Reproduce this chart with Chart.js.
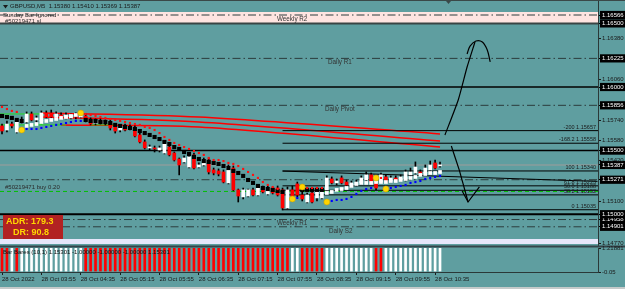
<!DOCTYPE html>
<html>
<head>
<meta charset="utf-8">
<script src="https://cdn.jsdelivr.net/npm/chart.js@4.4.0/dist/chart.umd.min.js"></script>
<style>
  html, body { margin: 0; padding: 0; width: 625px; height: 289px; overflow: hidden; background: #5f9ea0; }
  canvas { position: absolute; left: 0; }
  #main { top: 0; }
  #sub { top: 243px; }
  #foot { position: absolute; left: 0; top: 287px; width: 625px; height: 2px; background: #c4caca; }
  #topline { position: absolute; left: 0; top: 0; width: 625px; height: 1px; background: #3a4848; }
</style>
</head>
<body>
<canvas id="main" width="625" height="246"></canvas>
<canvas id="sub" width="625" height="46"></canvas>
<div id="topline"></div>
<div id="foot"></div>
<script>
/* ========= DATA (GBPUSD M5, 28 Oct 2022) ========= */
const _ = null;

const openP = [1.15694,1.15662,1.15709,1.15646,1.15725,1.15725,1.15788,1.15741,1.15733,1.15796,
  1.15796,1.15764,1.15780,1.15757,1.15757,1.15780,1.15764,1.15772,1.15741,1.15717,
  1.15733,1.15717,1.15725,1.15694,1.15662,1.15686,1.15670,1.15678,1.15623,1.15568,
  1.15521,1.15521,1.15505,1.15481,1.15528,1.15481,1.15434,1.15411,1.15371,1.15466,
  1.15371,1.15387,1.15426,1.15348,1.15340,1.15332,1.15246,1.15363,1.15191,1.15136,
  1.15143,1.15191,1.15151,1.15206,1.15159,1.15206,1.15206,1.15191,1.15049,1.15191,
  1.15238,1.15151,1.15096,1.15167,1.15128,1.15128,1.15191,1.15277,1.15246,1.15285,
  1.15253,1.15222,1.15230,1.15246,1.15269,1.15309,1.15246,1.15253,1.15293,1.15261,
  1.15285,1.15269,1.15269,1.15309,1.15324,1.15332,1.15324,1.15348,1.15403,1.15380];
const highP = [1.15709,1.15733,1.15725,1.15741,1.15764,1.15804,1.15804,1.15772,1.15812,1.15812,
  1.15819,1.15804,1.15796,1.15796,1.15788,1.15796,1.15812,1.15788,1.15757,1.15749,
  1.15749,1.15741,1.15741,1.15709,1.15702,1.15709,1.15702,1.15694,1.15638,1.15584,
  1.15544,1.15536,1.15536,1.15576,1.15544,1.15489,1.15442,1.15458,1.15466,1.15481,
  1.15403,1.15442,1.15442,1.15363,1.15356,1.15348,1.15387,1.15379,1.15198,1.15206,
  1.15198,1.15206,1.15230,1.15222,1.15222,1.15214,1.15222,1.15206,1.15214,1.15222,
  1.15253,1.15191,1.15167,1.15183,1.15198,1.15206,1.15301,1.15293,1.15277,1.15301,
  1.15269,1.15261,1.15269,1.15301,1.15332,1.15324,1.15261,1.15324,1.15309,1.15301,
  1.15301,1.15309,1.15348,1.15363,1.15411,1.15348,1.15387,1.15418,1.15426,1.15410];
const lowP = [1.15631,1.15646,1.15678,1.15638,1.15717,1.15717,1.15733,1.15725,1.15725,1.15757,
  1.15757,1.15757,1.15749,1.15749,1.15749,1.15749,1.15757,1.15725,1.15702,1.15702,
  1.15709,1.15702,1.15662,1.15638,1.15646,1.15654,1.15662,1.15607,1.15560,1.15513,
  1.15505,1.15489,1.15489,1.15474,1.15458,1.15418,1.15309,1.15403,1.15363,1.15356,
  1.15363,1.15379,1.15316,1.15309,1.15301,1.15246,1.15238,1.15183,1.15096,1.15120,
  1.15136,1.15143,1.15143,1.15167,1.15151,1.15159,1.15143,1.15033,1.15041,1.15128,
  1.15136,1.15104,1.15088,1.15088,1.15104,1.15120,1.15183,1.15238,1.15230,1.15238,
  1.15222,1.15214,1.15222,1.15238,1.15261,1.15246,1.15191,1.15246,1.15246,1.15253,
  1.15261,1.15261,1.15261,1.15293,1.15316,1.15309,1.15316,1.15332,1.15356,1.15369];
const closeP = [1.15654,1.15709,1.15694,1.15725,1.15741,1.15788,1.15741,1.15757,1.15796,1.15764,
  1.15764,1.15788,1.15757,1.15780,1.15780,1.15764,1.15788,1.15733,1.15709,1.15733,
  1.15717,1.15725,1.15678,1.15654,1.15686,1.15662,1.15686,1.15615,1.15568,1.15521,
  1.15528,1.15513,1.15521,1.15560,1.15466,1.15426,1.15387,1.15442,1.15450,1.15363,
  1.15387,1.15426,1.15332,1.15324,1.15316,1.15253,1.15371,1.15191,1.15143,1.15191,
  1.15191,1.15151,1.15214,1.15175,1.15206,1.15167,1.15151,1.15049,1.15191,1.15143,
  1.15151,1.15120,1.15151,1.15096,1.15183,1.15191,1.15285,1.15246,1.15261,1.15246,
  1.15230,1.15246,1.15253,1.15285,1.15309,1.15253,1.15206,1.15309,1.15253,1.15285,
  1.15269,1.15293,1.15332,1.15332,1.15371,1.15316,1.15363,1.15387,1.15363,1.15387];

// trailing indicators, one value per bar
const redDots = [1.15843,1.15827,1.15812,1.15804,_,_,_,_,_,_,_,_,_,_,_,_,
  1.15796,1.15788,1.15780,1.15772,1.15764,1.15757,1.15749,1.15741,1.15733,1.15725,
  1.15717,1.15709,1.15702,1.15686,1.15678,1.15662,1.15638,1.15607,1.15584,1.15560,
  1.15544,1.15528,1.15513,1.15497,1.15481,1.15466,1.15442,1.15426,1.15426,1.15418,
  1.15403,1.15395,1.15379,1.15356,1.15332,1.15309,1.15285,1.15253,1.15230,1.15214,1.15198,
  _,_,_,_,_,1.15206,1.15206,1.15206,1.15206,_,_,_,_,_,_,_,_,_,_,1.15285,1.15285,
  _,_,_,_,_,_,_,_,_,_,_,_];
const blackBlocks = [1.15772,1.15764,1.15757,1.15741,1.15733,_,_,_,_,_,_,_,_,_,_,_,_,
  1.15741,1.15733,1.15733,1.15725,1.15725,1.15717,1.15702,1.15694,1.15686,1.15678,
  1.15670,1.15654,1.15638,1.15623,1.15607,1.15591,1.15568,1.15552,1.15528,1.15513,
  1.15489,1.15474,1.15450,1.15434,1.15418,1.15411,1.15403,1.15395,1.15379,1.15363,
  1.15340,1.15324,1.15301,1.15269,1.15246,1.15222,1.15206,1.15198,1.15191,1.15183,1.15175,
  _,_,_,1.15191,1.15191,1.15191,1.15191,1.15191,
  _,_,_,_,_,_,_,_,_,_,_,_,_,_,_,_,_,_,_,_,_,_,_,_];
const whiteBlocks = [_,_,_,_,_,1.15694,1.15702,1.15709,1.15725,1.15733,1.15741,1.15749,1.15757,
  1.15764,1.15772,1.15780,
  _,_,_,_,_,_,_,_,_,_,_,_,_,_,_,_,_,_,_,_,_,_,_,_,_,_,_,_,_,_,_,_,_,_,_,_,_,_,_,_,_,_,_,_,_,_,_,_,_,_,
  1.15167,1.15175,1.15191,1.15198,1.15206,1.15222,1.15238,1.15246,1.15246,1.15246,1.15253,1.15253,
  1.15253,1.15261,1.15261,1.15269,1.15277,1.15285,1.15293,1.15309,1.15316,1.15324,1.15324,1.15332];
const blueDots = [_,_,_,_,_,1.15670,1.15670,1.15670,1.15678,1.15686,1.15694,1.15702,1.15709,
  1.15717,1.15725,1.15733,1.15733,
  _,_,_,_,_,_,_,_,_,_,_,_,_,_,_,_,_,_,_,_,_,_,_,_,_,_,_,_,_,_,_,_,_,_,_,_,_,_,_,_,_,_,_,
  1.15128,_,_,_,_,_,_,
  1.15104,1.15112,1.15112,1.15120,1.15136,1.15159,1.15183,1.15198,1.15206,
  _,_,_,
  1.15206,1.15214,1.15222,1.15230,1.15246,1.15253,1.15261,1.15277,1.15285,1.15293,1.15301];
const signalBars   = [4, 16, 59, 61, 66, 76, 78];
const signalPrices = [1.15662, 1.15796, 1.15120, 1.15214, 1.15096, 1.15285, 1.15198];

// higher timeframe averages (red), knots in bar / price
const maBars   = [[8, 40, 89], [8, 40, 89], [12, 40, 89]];
const maPrices = [[1.15796, 1.15764, 1.15631], [1.15764, 1.15725, 1.15576], [1.15702, 1.15686, 1.15528]];

// levels
const pivotPrices = [1.16566, 1.16225, 1.15856, 1.15271, 1.14958, 1.14901];
const pivotNames  = ["Weekly R2", "Daily R1", "Daily Pivot", "", "Weekly R1", "Daily S2"];
const roundLevels = [1.16000, 1.15500, 1.15000];
const sundayBand  = [1.16590, 1.16500];
const lowBand     = [1.14806, 1.14766];
const bidPrice    = 1.15387;
const orderPrice  = 1.15179;
const fibStart    = 57;
const fibPrices   = [1.15657, 1.15558, 1.15340, 1.15223, 1.15188, 1.15152, 1.15035];
const fibNames    = ["-200 1.15657", "-168.2 1.15558", "100 1.15340", "61.8 1.15223", "50.0 1.15188", "38.2 1.15152", "0 1.15035"];
const trendBars   = [57, 121];
const trendPrices = [1.15339, 1.15258];
const boxBars     = [[-0.4, 8], [-0.4, 13], [8, 8], [18, 23]];
const boxPrices   = [[1.15788, 1.15788], [1.15702, 1.15702], [1.15788, 1.15702], [1.15702, 1.15702]];

// hand drawn arrows
const upShaftBars = [90.0, 92.7, 94.5, 96.1];
const upShaftP    = [1.15623, 1.15898, 1.16157, 1.16354];
const upHeadBars  = [94.5, 95.1, 96.3, 97.6, 98.6, 99.2];
const upHeadP     = [1.16260, 1.16322, 1.16362, 1.16354, 1.16291, 1.16197];
const dnShaftBars = [91.3, 92.9, 94.7];
const dnShaftP    = [1.15536, 1.15348, 1.15096];
const dnHeadBars  = [93.5, 94.7, 97.0];
const dnHeadP     = [1.15183, 1.15096, 1.15214];

// sub window: bar trend (+1 white, -1 red)
const histTrend = [-1,-1,1,-1,1, 1,1,1,1,1,1,1,1,1,1,1,1,
  -1,-1,-1,-1,-1,-1,-1,-1,-1,-1,-1,-1,-1,-1,-1,-1,-1,-1,-1,-1,-1,
  -1,-1,-1,-1,-1,-1,-1,-1,-1,-1,-1,-1,-1,-1,-1,-1,-1,-1,-1,-1,-1,
  1,1, -1,-1,-1,-1,-1, 1,1,1,1,1,1,1,1,1,1, -1,-1, 1,1,1,1,1,1,1,1,1,1,1,1];
const histHeight = 1.2;

// axis ticks
const plainTicks = [1.16380, 1.16060, 1.15740, 1.15580, 1.15420, 1.15100, 1.14770];
const boxTicks   = [1.16566, 1.16500, 1.16225, 1.16000, 1.15856, 1.15500, 1.15387, 1.15271, 1.15000, 1.14958, 1.14901];
const subTicks   = [1.21881, -0.05];
const tickBars   = [0, 8, 16, 24, 32, 40, 48, 56, 64, 72, 80, 88];
const timeLabels = ["28 Oct 2022", "28 Oct 03:55", "28 Oct 04:35", "28 Oct 05:15", "28 Oct 05:55", "28 Oct 06:35",
  "28 Oct 07:15", "28 Oct 07:55", "28 Oct 08:35", "28 Oct 09:15", "28 Oct 09:55", "28 Oct 10:35"];

const title = "GBPUSD,M5  1.15380 1.15410 1.15369 1.15387";

/* ========= SETUP ========= */
const FONT = "'Liberation Sans', Arial, sans-serif";
Chart.defaults.font.family = FONT;
Chart.defaults.font.size = 6;
Chart.defaults.color = '#1a1a1a';

const xMin = -0.41, xMax = 121.1;
const yMin = 1.14750, yMax = 1.16684;
const bars = closeP.map((v, i) => i);

const pts = (arr) => arr.map((v, i) => v === null ? null : {x: i, y: v}).filter(p => p);
const path = (xs, ys) => xs.map((x, i) => ({x, y: ys[i]}));
const isBoxed = (c) => c.tick && boxTicks.includes(c.tick.value);

function hline(p, color, width, dash, order, x0) {
  return {
    type: 'line', data: [{x: x0 === undefined ? xMin : x0, y: p}, {x: xMax, y: p}],
    borderColor: color, borderWidth: width, borderDash: dash || [], pointRadius: 0, fill: false, order
  };
}
function band(b, color) {
  return {
    type: 'line', data: [{x: xMin, y: b[0]}, {x: xMax, y: b[0]}],
    borderWidth: 0, pointRadius: 0, fill: {value: b[1]}, backgroundColor: color, order: 100
  };
}
function poly(xs, ys, color, width, order, tension) {
  return {
    type: 'line', data: path(xs, ys), borderColor: color, borderWidth: width,
    pointRadius: 0, fill: false, tension: tension || 0, order
  };
}
function marks(data, style, r, color, order) {
  return {
    type: 'line', data, showLine: false, pointStyle: style, pointRadius: r,
    pointBackgroundColor: color, pointBorderWidth: 0, order
  };
}

const datasets = [];
datasets.push(band(sundayBand, '#ffe4e1'));
datasets.push(band(lowBand, '#e6e6fa'));
pivotPrices.forEach(p => datasets.push(hline(p, '#2c3c3c', 1, [8, 3, 1.5, 3], 90)));
datasets.push(hline(sundayBand[1], '#3a4444', 2, [], 90));
roundLevels.forEach((p, i) => datasets.push(hline(p, '#000', i === 2 ? 2 : 1.5, [], 90)));
datasets.push(hline(bidPrice, '#8a9c9c', 1.5, [], 91));
datasets.push(hline(orderPrice, '#00c000', 1, [4, 3], 89));
fibPrices.forEach(p => datasets.push(hline(p, '#000', 1, [], 70, fibStart)));
datasets.push(poly(trendBars, trendPrices, '#000', 1, 70));
boxBars.forEach((b, i) => datasets.push(poly(b, boxPrices[i], '#22dd22', 1, 75)));
maBars.forEach((b, i) => datasets.push(poly(b, maPrices[i], '#ff0000', 1.5, 80, 0.3)));

// candles
datasets.push({
  type: 'bar', data: bars.map(i => ({x: i, y: [lowP[i], highP[i]]})),
  backgroundColor: '#000', barThickness: 1, grouped: false, borderWidth: 0, order: 50
});
datasets.push({
  type: 'bar', data: bars.map(i => ({x: i, y: [openP[i], closeP[i]]})),
  backgroundColor: bars.map(i => closeP[i] >= openP[i] ? '#ffffff' : '#ff0000'),
  barThickness: 3, grouped: false, borderWidth: 0, minBarLength: 1, order: 45
});

// indicators
datasets.push(marks(pts(blackBlocks), 'rect', 2.9, '#000', 40));
datasets.push(marks(pts(whiteBlocks), 'rect', 2.6, '#fff', 40));
datasets.push(marks(pts(redDots), 'rect', 1.5, '#ff1010', 35));
datasets.push(marks(pts(blueDots), 'rect', 1.5, '#0000ff', 35));
datasets.push({
  type: 'line', data: path(signalBars, signalPrices), showLine: false, pointStyle: 'circle',
  pointRadius: 3, pointBackgroundColor: '#ffd400', pointBorderColor: '#c8a000', pointBorderWidth: 0.5, order: 30
});

// arrows
datasets.push(poly(upShaftBars, upShaftP, '#000', 1.2, 10, 0.2));
datasets.push(poly(upHeadBars, upHeadP, '#000', 1.2, 10, 0.35));
datasets.push(poly(dnShaftBars, dnShaftP, '#000', 1.2, 10, 0.1));
datasets.push(poly(dnHeadBars, dnHeadP, '#000', 1.2, 10));

/* ========= TEXT OVERLAY ========= */
const mainText = {
  id: 'mainText',
  afterDatasetsDraw(chart) {
    const {ctx, scales: {y}} = chart;
    ctx.save();
    ctx.textBaseline = 'middle';
    ctx.textAlign = 'left';
    ctx.fillStyle = '#1a1a1a';

    // title row
    ctx.beginPath(); ctx.moveTo(3, 5); ctx.lineTo(8, 5); ctx.lineTo(5.5, 8.5); ctx.closePath(); ctx.fill();
    ctx.font = '6px ' + FONT;
    ctx.fillText(title, 10, 6.5);
    ctx.fillStyle = '#3a4848';
    ctx.beginPath(); ctx.moveTo(446, 1); ctx.lineTo(451, 1); ctx.lineTo(448.5, 4); ctx.closePath(); ctx.fill();

    ctx.fillStyle = '#2a2a2a';
    ctx.fillText('Sunday Bar Ignored', 3, 15);
    ctx.fillText('#50219471 sl', 5, 21);
    ctx.fillText('#50219471 buy 0.20', 5, y.getPixelForValue(orderPrice) - 4);

    ctx.fillStyle = '#333';
    ctx.font = '6.3px ' + FONT;
    const nameX = [277, 328, 325, 0, 277, 329];
    pivotNames.forEach((n, i) => { if (n) ctx.fillText(n, nameX[i], y.getPixelForValue(pivotPrices[i]) + 4); });

    ctx.fillStyle = '#1a1a1a';
    ctx.font = '5.5px ' + FONT;
    ctx.textAlign = 'right';
    fibNames.forEach((n, i) => ctx.fillText(n, 596, y.getPixelForValue(fibPrices[i]) - 3.5));

    // ADR box
    ctx.textAlign = 'left';
    ctx.fillStyle = '#b22222';
    ctx.fillRect(3, 215, 60, 24);
    ctx.fillStyle = '#ffd700';
    ctx.font = 'bold 9px ' + FONT;
    ctx.fillText('ADR: 179.3', 6, 221.5);
    ctx.fillText('DR: 90.8', 13, 232.5);
    ctx.restore();
  }
};

const allTicks = plainTicks.concat(boxTicks).sort((a, b) => a - b);

new Chart(document.getElementById('main'), {
  type: 'bar',
  data: {datasets},
  options: {
    responsive: false, animation: false, devicePixelRatio: 1,
    layout: {padding: 0, autoPadding: false},
    plugins: {legend: {display: false}, tooltip: {enabled: false}},
    scales: {
      x: {type: 'linear', min: xMin, max: xMax, display: false, offset: false, grid: {offset: false}},
      y: {
        type: 'linear', position: 'right', min: yMin, max: yMax,
        afterBuildTicks: s => { s.ticks = allTicks.map(v => ({value: v})); },
        afterFit: s => { s.width = 27; s.paddingTop = 0; s.paddingBottom = 0; },
        ticks: {
          autoSkip: false, padding: 1, callback: v => v.toFixed(5),
          color: c => isBoxed(c) ? '#ffffff' : '#1a1a1a',
          showLabelBackdrop: c => isBoxed(c),
          backdropColor: '#000000',
          backdropPadding: {left: 2, right: 3, top: 0.5, bottom: 0.5}
        },
        grid: {drawOnChartArea: false, tickLength: 3, tickColor: c => isBoxed(c) ? '#000000' : '#1a1a1a'},
        border: {display: true, color: '#2a3838', width: 1}
      }
    }
  },
  plugins: [mainText]
});

/* ========= SUB WINDOW ========= */
const subDeco = {
  id: 'subDeco',
  beforeDraw(chart) {
    const ctx = chart.ctx;
    ctx.save();
    ctx.fillStyle = '#34444a';
    ctx.fillRect(0, 2.5, 625, 2);
    ctx.restore();
  },
  afterDatasetsDraw(chart) {
    const ctx = chart.ctx;
    ctx.save();
    ctx.font = '6px ' + FONT;
    ctx.fillStyle = '#111';
    ctx.textBaseline = 'middle';
    ctx.fillText('Bar Bares (10,1) 1.15301 -1.00000 -1.00000 -1.00000 1.15301', 3, 9.5);
    ctx.restore();
  }
};

new Chart(document.getElementById('sub'), {
  type: 'bar',
  data: {
    datasets: [{
      data: bars.map(i => ({x: i, y: histHeight})),
      backgroundColor: histTrend.map(t => t > 0 ? '#ffffff' : '#ff0000'),
      barThickness: 2, grouped: false, borderWidth: 0
    }]
  },
  options: {
    responsive: false, animation: false, devicePixelRatio: 1,
    layout: {padding: {top: 5}, autoPadding: false},
    plugins: {legend: {display: false}, tooltip: {enabled: false}},
    scales: {
      x: {
        type: 'linear', min: xMin, max: xMax, offset: false, position: 'bottom',
        afterBuildTicks: s => { s.ticks = tickBars.map(v => ({value: v})); },
        afterFit: s => { s.height = 17; s.paddingLeft = 0; s.paddingRight = 0; },
        ticks: {autoSkip: false, maxRotation: 0, minRotation: 0, align: 'start', padding: 1,
                color: '#1a1a1a', callback: (v, i) => timeLabels[i]},
        grid: {drawOnChartArea: false, tickLength: 3, tickColor: '#1a1a1a', offset: false},
        border: {display: true, color: '#2a3838'}
      },
      y: {
        type: 'linear', position: 'right', min: subTicks[1], max: subTicks[0],
        afterBuildTicks: s => { s.ticks = subTicks.map(v => ({value: v})); },
        afterFit: s => { s.width = 27; s.paddingTop = 0; s.paddingBottom = 0; },
        ticks: {autoSkip: false, padding: 1, color: '#1a1a1a', callback: v => String(v)},
        grid: {drawOnChartArea: false, tickLength: 3, tickColor: '#1a1a1a'},
        border: {display: true, color: '#2a3838'}
      }
    }
  },
  plugins: [subDeco]
});
</script>
</body>
</html>
